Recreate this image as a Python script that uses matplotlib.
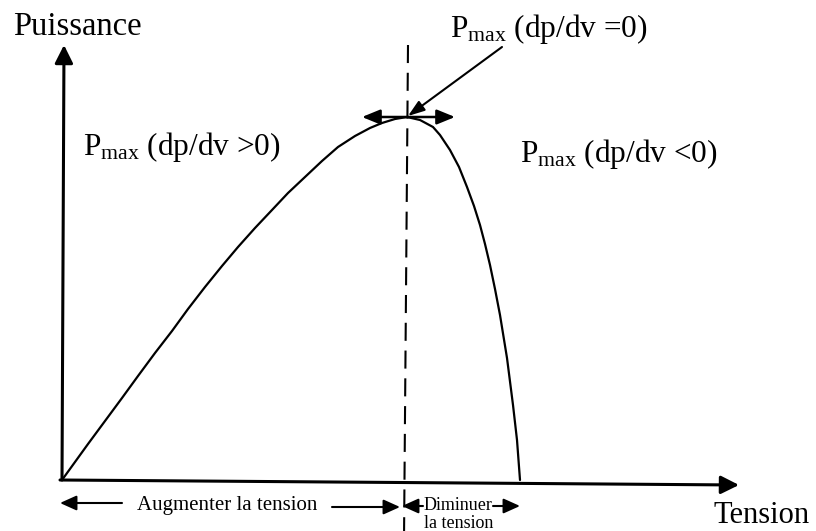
import matplotlib
matplotlib.use("Agg")
import matplotlib.pyplot as plt
from matplotlib.patches import FancyArrowPatch

plt.rcParams['font.family'] = ['Liberation Serif', 'DejaVu Serif']
plt.rcParams['mathtext.fontset'] = 'custom'
plt.rcParams['mathtext.rm'] = 'Liberation Serif'
plt.rcParams['mathtext.it'] = 'Liberation Serif:italic'
plt.rcParams['lines.scale_dashes'] = False

# P-V curve (tension, puissance)
tension = [0, 13, 26, 43, 60, 76, 93, 110, 126, 143, 160, 176, 193, 210,
           226, 243, 260, 276, 293, 308, 320, 333, 345,
           358, 371, 378, 388, 397, 405, 412, 418, 423, 428, 433, 438,
           445, 451, 455, 458]
puissance = [0, 18, 36, 59, 82, 104, 127, 149, 171, 193, 214, 233, 252, 270,
             287, 303, 319, 333, 344, 352, 357, 361, 363,
             360, 353, 345, 330, 313, 293, 274, 255, 236, 215, 191, 165,
             122, 75, 40, 0]

v_mpp = 345
p_mpp = 363

title_y = "Puissance"
title_x = "Tension"
lbl_zero = r"P$_{\mathrm{max}}$ (dp/dv =0)"
lbl_pos = r"P$_{\mathrm{max}}$ (dp/dv >0)"
lbl_neg = r"P$_{\mathrm{max}}$ (dp/dv <0)"
lbl_aug = "Augmenter la tension"
lbl_dim1 = "Diminuer"
lbl_dim2 = "la tension"

fig = plt.figure(figsize=(8.16, 5.31), dpi=100)
ax = fig.add_axes([0, 0, 1, 1])
ax.set_xlim(-62, 754)
ax.set_ylim(-51, 480)
ax.axis('off')

K = 'black'

def arrow(p0, p1, style, lw=1.8, ms=10):
    a = FancyArrowPatch(p0, p1, arrowstyle=style, mutation_scale=ms,
                        color=K, lw=lw, shrinkA=0, shrinkB=0)
    ax.add_patch(a)

# axes with arrows
arrow((0, 0), (2, 435), '-|>,head_length=1.1,head_width=0.55', lw=2.2)
arrow((-2, 0), (677, -5), '-|>,head_length=1.1,head_width=0.55', lw=2.2)

# curve
ax.plot(tension, puissance, color=K, lw=1.6, solid_capstyle='round',
        solid_joinstyle='round')

# dashed vertical at MPP
ax.plot([v_mpp + 1, v_mpp - 3], [435, -60], color=K, lw=1.5, dashes=(13, 7))

# double arrow at MPP
arrow((v_mpp - 45, p_mpp), (v_mpp + 48, p_mpp), '<|-|>,head_length=1.1,head_width=0.45', lw=1.8)

# pointer to MPP
arrow((440, 433), (v_mpp + 1, p_mpp + 1), '-|>,head_length=1.0,head_width=0.35', lw=1.5)

# texts
ax.text(-49, 445, title_y, fontsize=23.5, va='baseline', ha='left', color=K)
ax.text(651, -43, title_x, fontsize=22, va='baseline', ha='left', color=K)
ax.text(388, 443, lbl_zero, fontsize=22.5, va='baseline', ha='left', color=K)
ax.text(21, 325, lbl_pos, fontsize=22.5, va='baseline', ha='left', color=K)
ax.text(458, 318, lbl_neg, fontsize=22.5, va='baseline', ha='left', color=K)

ax.text(75, -30, lbl_aug, fontsize=15, va='baseline', ha='left', color=K)
arrow((60, -23), (-2, -23), '-|>,head_length=1.0,head_width=0.45', lw=1.5)
arrow((270, -27), (338, -27), '-|>,head_length=1.0,head_width=0.45', lw=1.5)

ax.text(396, -30, lbl_dim1, fontsize=13, va='baseline', ha='center', color=K)
ax.text(397, -48, lbl_dim2, fontsize=13, va='baseline', ha='center', color=K)
arrow((361, -26), (340, -26), '-|>,head_length=1.0,head_width=0.45', lw=1.5)
arrow((431, -26), (458, -26), '-|>,head_length=1.0,head_width=0.45', lw=1.5)

fig.savefig("out.png", dpi=100, facecolor='white')
